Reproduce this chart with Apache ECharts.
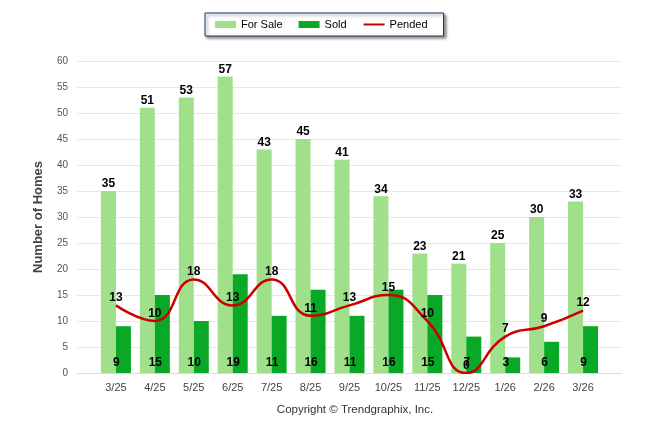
<!DOCTYPE html>
<html>
<head>
<meta charset="utf-8">
<script src="https://cdn.jsdelivr.net/npm/echarts@6/dist/echarts.min.js"></script>
<style>
  html, body { margin: 0; padding: 0; background: #fff; }
  #chart { width: 646px; height: 434px; }
</style>
</head>
<body>
<div id="chart"></div>
<script>
let months = ['3/25', '4/25', '5/25', '6/25', '7/25', '8/25', '9/25', '10/25', '11/25', '12/25', '1/26', '2/26', '3/26'];
let forSale = [35, 51, 53, 57, 43, 45, 41, 34, 23, 21, 25, 30, 33];
let sold = [9, 15, 10, 19, 11, 16, 11, 16, 15, 7, 3, 6, 9];
let pended = [13, 10, 18, 13, 18, 11, 13, 15, 10, 0, 7, 9, 12];
let yTicks = [0, 5, 10, 15, 20, 25, 30, 35, 40, 45, 50, 55, 60];

// value axis from -1 to 13 so there is a free slot on both ends like the original
let pairs = arr => arr.map((v, i) => [i, v]);

let labelFont = {
    color: '#000',
    fontWeight: 'bold',
    fontSize: 12,
    fontFamily: 'Arial, "Liberation Sans", sans-serif'
};

let option = {
    animation: false,
    textStyle: { fontFamily: 'Arial, "Liberation Sans", sans-serif' },
    title: {
        text: 'Copyright \u00a9 Trendgraphix, Inc.',
        left: 350,
        top: 399,
        textAlign: 'center',
        textStyle: { fontSize: 11.5, fontWeight: 'normal', color: '#333' }
    },
    legend: {
        top: 13,
        left: 205,
        padding: [6, 16, 6, 10],
        itemGap: 16,
        itemWidth: 21,
        itemHeight: 7,
        borderColor: '#1b3763',
        borderWidth: 1,
        backgroundColor: '#fff',
        shadowColor: 'rgba(0,0,0,0.45)',
        shadowBlur: 3,
        shadowOffsetX: 2,
        shadowOffsetY: 2,
        textStyle: { fontSize: 11, color: '#000' },
        data: [
            { name: 'For Sale', icon: 'rect' },
            { name: 'Sold', icon: 'rect' },
            { name: 'Pended', itemStyle: { opacity: 0 } }
        ]
    },
    grid: { left: 77, right: 24, top: 61, bottom: 61 },
    xAxis: {
        type: 'value',
        min: -1,
        max: 13,
        interval: 1,
        splitLine: { show: false },
        axisTick: { show: false },
        axisLine: { show: true, lineStyle: { color: '#dcdcdc' } },
        axisLabel: {
            color: '#444',
            fontSize: 11,
            margin: 9,
            showMinLabel: false,
            showMaxLabel: false,
            formatter: v => months[v] || ''
        }
    },
    yAxis: {
        type: 'value',
        min: yTicks[0],
        max: yTicks[yTicks.length - 1],
        interval: 5,
        name: 'Number of Homes',
        nameLocation: 'middle',
        nameGap: 32,
        nameTextStyle: { fontSize: 13, fontWeight: 'bold', color: '#444' },
        axisLine: { show: false },
        axisTick: { show: false },
        axisLabel: { color: '#555', fontSize: 10, margin: 9 },
        splitLine: { lineStyle: { color: '#e8e8e8' } }
    },
    series: [
        {
            name: 'For Sale',
            type: 'bar',
            barWidth: 15,
            barGap: '0%',
            itemStyle: { color: '#a0e08a' },
            label: Object.assign({ show: true, position: 'top', distance: 1 }, labelFont),
            data: pairs(forSale)
        },
        {
            name: 'Sold',
            type: 'bar',
            barWidth: 15,
            barGap: '0%',
            itemStyle: { color: '#0aa827' },
            label: Object.assign({ show: true, position: 'insideBottom', distance: 4, offset: [-7, 0] }, labelFont),
            data: pairs(sold)
        },
        {
            name: 'Pended',
            type: 'line',
            smooth: 0.5,
            symbol: 'circle',
            symbolSize: 1,
            showSymbol: true,
            z: 5,
            lineStyle: { color: '#cc0000', width: 2.5 },
            itemStyle: { color: 'rgba(0,0,0,0)' },
            label: Object.assign({ show: true, position: 'top', distance: 1 }, labelFont),
            data: pairs(pended)
        }
    ]
};

let chart = echarts.init(document.getElementById('chart'));
chart.setOption(option);
</script>
</body>
</html>
